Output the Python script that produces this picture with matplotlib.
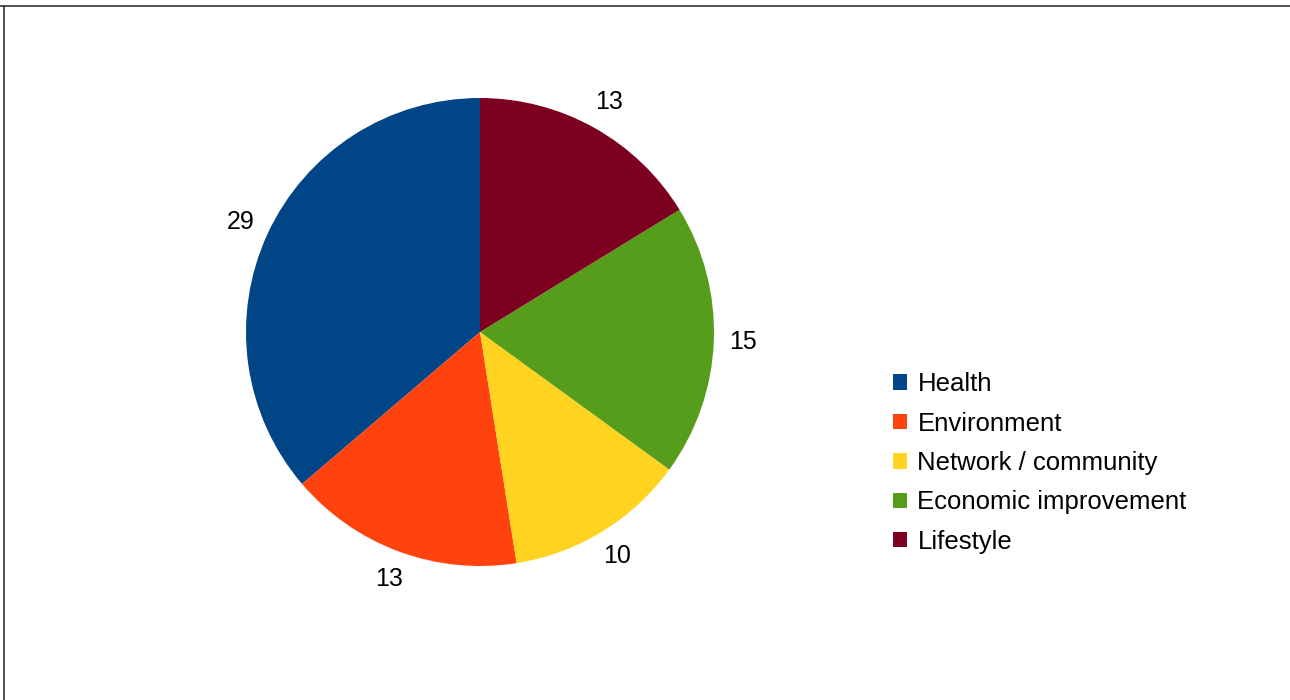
import matplotlib
matplotlib.use("Agg")
from matplotlib import pyplot as plt
from matplotlib.lines import Line2D

plt.rcParams["font.family"] = ["Liberation Sans", "DejaVu Sans"]

categories = ["Health", "Environment", "Network / community", "Economic improvement", "Lifestyle"]
values = [29, 13, 10, 15, 13]
colors = ["#004586", "#ff420e", "#ffd320", "#579d1c", "#7e0021"]

W, H = 1290, 700
fig = plt.figure(figsize=(W / 100, H / 100), dpi=100)

# pie placed by pixel centre / radius from the reference
cx, cy, r = 480, 332, 234
ax = fig.add_axes([(cx - r) / W, 1 - (cy + r) / H, 2 * r / W, 2 * r / H])
wedges, texts = ax.pie(values, colors=colors, startangle=90, counterclock=True,
                       labels=[str(v) for v in values], labeldistance=1.125,
                       textprops={"fontsize": 18, "color": "black"},
                       wedgeprops={"linewidth": 0})

# labels centred on their ray
for t in texts:
    t.set_ha("center")
    t.set_va("center")

ax.set_xlim(-1, 1)
ax.set_ylim(-1, 1)
ax.set_aspect("equal")

leg = fig.legend(wedges, categories, loc="center left",
                 bbox_to_anchor=(893 / W, 1 - 463 / H), frameon=False,
                 fontsize=18.5, handlelength=0.55, handleheight=0.55,
                 handletextpad=0.4, labelspacing=0.6,
                 borderpad=0, borderaxespad=0)

# thin frame on top and left edges like the original
fig.add_artist(Line2D([0, 1], [1 - 6 / H, 1 - 6 / H], color="#333333", lw=1.2))
fig.add_artist(Line2D([4 / W, 4 / W], [0, 1 - 6 / H], color="#333333", lw=1.2))

fig.savefig("out.png", dpi=100)
